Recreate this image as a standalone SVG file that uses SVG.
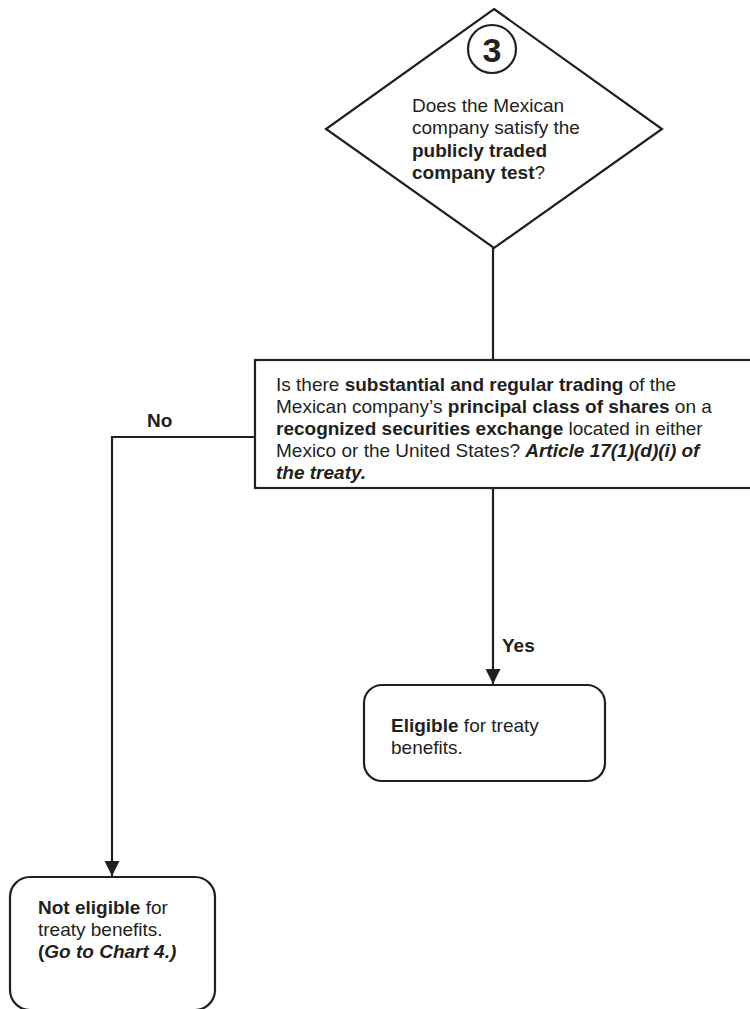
<svg xmlns="http://www.w3.org/2000/svg" width="750" height="1009" viewBox="0 0 750 1009">
<defs>
<style>
.shape{fill:#fff;stroke:#231f20;stroke-width:2.2}
.line{fill:none;stroke:#231f20;stroke-width:2.2}
text{font-family:"Liberation Sans",Arial,sans-serif;font-size:19px;fill:#231f20}
.b{font-weight:bold}
.bi{font-weight:bold;font-style:italic}
</style>
<marker id="arr" viewBox="0 0 10 10" refX="10" refY="5" markerWidth="7" markerHeight="7" markerUnits="strokeWidth" orient="auto">
<path d="M0,0 L10,5 L0,10 z" fill="#231f20"/>
</marker>
</defs>
<rect width="750" height="1009" fill="#fff"/>
<g id="connectors">
<line class="line" x1="493" y1="248" x2="493" y2="360"/>
<line class="line" x1="493" y1="488" x2="493" y2="684" marker-end="url(#arr)"/>
<polyline class="line" points="255,437 112,437 112,876" marker-end="url(#arr)"/>
<text x="502" y="652" class="b">Yes</text>
<text x="147" y="427" class="b">No</text>
</g>
<g id="q3">
<polygon class="shape" points="494,9 662,129 494,248 326,129"/>
<circle class="shape" cx="492" cy="49" r="24"/>
<text x="492" y="62" class="b" text-anchor="middle" style="font-size:34px">3</text>
<text x="412" y="112">Does the Mexican</text>
<text x="412" y="134">company satisfy the</text>
<text x="412" y="157" class="b">publicly traded</text>
<text x="412" y="179"><tspan class="b">company test</tspan>?</text>
</g>
<g id="trading">
<rect class="shape" x="255" y="360" width="500" height="128"/>
<text x="276" y="391">Is there <tspan class="b">substantial and regular trading</tspan> of the</text>
<text x="276" y="413">Mexican company’s <tspan class="b">principal class of shares</tspan> on a</text>
<text x="276" y="435"><tspan class="b">recognized securities exchange</tspan> located in either</text>
<text x="276" y="457">Mexico or the United States? <tspan class="bi">Article 17(1)(d)(i) of</tspan></text>
<text x="276" y="479" class="bi">the treaty.</text>
</g>
<g id="eligible">
<rect class="shape" x="364" y="685" width="241" height="96" rx="18" ry="18"/>
<text x="391" y="732"><tspan class="b">Eligible</tspan> for treaty</text>
<text x="391" y="754">benefits.</text>
</g>
<g id="not-eligible">
<rect class="shape" x="10" y="877" width="205" height="133" rx="20" ry="20"/>
<text x="38" y="914"><tspan class="b">Not eligible</tspan> for</text>
<text x="38" y="936">treaty benefits.</text>
<text x="38" y="958"><tspan class="b">(</tspan><tspan class="bi">Go to Chart 4.)</tspan></text>
</g>
</svg>
